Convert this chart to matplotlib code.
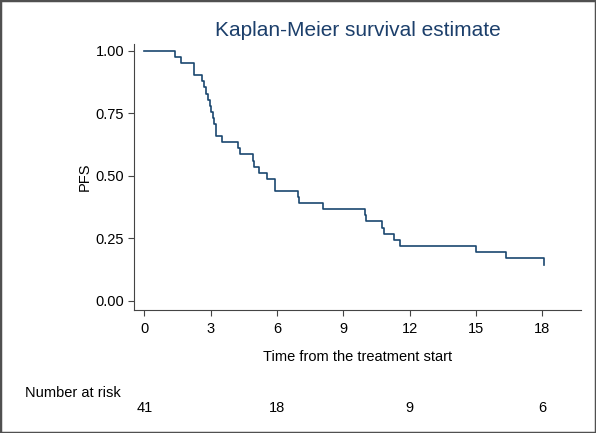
import numpy as np
import matplotlib
matplotlib.use('Agg')
import matplotlib.pyplot as plt
from matplotlib.patches import Rectangle

plt.rcParams['font.family'] = ['Liberation Sans', 'DejaVu Sans']

# step points of the Kaplan-Meier curve (time, survival after the step)
times = [0, 1.36, 1.67, 2.24, 2.62, 2.68, 2.77, 2.86, 2.95, 3.02, 3.08, 3.15,
         3.22, 3.51, 4.24, 4.30, 4.90, 4.95, 5.18, 5.53, 5.91, 6.94, 7.01,
         8.07, 9.96, 10.03, 10.76, 10.83, 11.29, 11.56, 15.0, 16.35, 18.08]
surv = [1.0, 0.9756, 0.9512, 0.9024, 0.878, 0.8537, 0.8293, 0.8049, 0.7805,
        0.7561, 0.7317, 0.7073, 0.6585, 0.6341, 0.6098, 0.5854, 0.561, 0.5366,
        0.5122, 0.4878, 0.439, 0.4146, 0.3902, 0.3659, 0.341, 0.317, 0.292,
        0.268, 0.243, 0.219, 0.194, 0.169, 0.143]

xticks = [0, 3, 6, 9, 12, 15, 18]
yticks = [0.0, 0.25, 0.5, 0.75, 1.0]
risk_times = [0, 6, 12, 18]
risk_n = [41, 18, 9, 6]

navy = '#1a476f'
W, H = 596, 433
fig = plt.figure(figsize=(W / 100, H / 100), dpi=100)
fig.patch.set_facecolor('white')
ax = fig.add_axes([134 / W, 1 - 310 / H, (581 - 134) / W, (310 - 44) / H])

ax.step(times, surv, where='post', color=navy, lw=1.2)

ax.set_xlim(-0.475, 19.75)
ax.set_ylim(-0.038, 1.028)
ax.set_xticks(xticks)
ax.set_yticks(yticks)
ax.set_yticklabels(['%.2f' % v for v in yticks])
for s in ['top', 'right']:
    ax.spines[s].set_visible(False)
for s in ['left', 'bottom']:
    ax.spines[s].set_color('#444444')
    ax.spines[s].set_linewidth(0.8)
ax.tick_params(direction='out', length=4.5, width=0.8, color='#444444',
               labelsize=10.5)
ax.tick_params(axis='y', pad=2.5)
ax.tick_params(axis='x', pad=4)

ax.set_xlabel('Time from the treatment start', fontsize=10.5, labelpad=10)
ax.set_ylabel('PFS', fontsize=10.5, labelpad=3)
ax.set_title('Kaplan-Meier survival estimate', fontsize=15, color='#1c3f6b', pad=6)

# number at risk table
fig.text(25 / W, 1 - 393 / H, 'Number at risk', fontsize=10.5, va='center')
trans = ax.get_xaxis_transform()
for t, n in zip(risk_times, risk_n):
    ax.text(t, -(408 - 310) / (310 - 44), str(n), transform=trans,
            ha='center', va='center', fontsize=10.5, clip_on=False)

fig.patches.append(Rectangle((0, 0), 1, 1, transform=fig.transFigure,
                             fill=False, ec='#505050', lw=2.5))

fig.savefig('out.png', dpi=100)
